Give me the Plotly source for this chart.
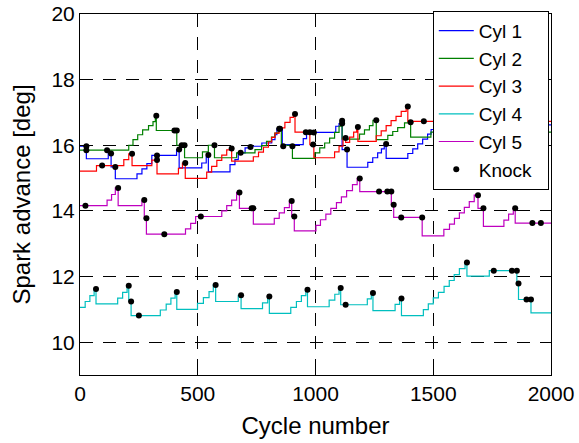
import plotly.graph_objects as go

# ---- data ----
cyl1_x = [0, 27, 120, 132, 150, 242, 263, 284, 305, 410, 421, 517, 536, 545, 637, 658, 672, 701, 724,
          772, 814, 828, 836, 859, 948, 962, 1086, 1100, 1113, 1134, 1222, 1243, 1264, 1280, 1292, 1300,
          1392, 1413, 1434, 1455, 1476, 1491, 1512, 2000]
cyl1_y = [15.97, 15.59, 15.75, 15.34, 14.98, 15.13, 15.28, 15.44, 15.69, 15.87, 15.31, 15.46, 15.64, 15.19,
          15.41, 15.56, 15.77, 15.92, 15.97, 16.07, 16.17, 16.32, 16.5, 16.02, 16.2, 16.39, 16.58, 16.66,
          15.87, 15.33, 15.48, 15.62, 15.77, 15.89, 16.04, 15.6, 15.75, 15.89, 16.04, 16.19, 16.34, 16.48,
          16.62, 16.62]

cyl2_x = [0, 207, 225, 245, 266, 291, 310, 320, 324, 411, 444, 520, 545, 571, 665, 743, 771, 792, 813,
          827, 842, 855, 902, 997, 1018, 1039, 1060, 1081, 1100, 1108, 1113, 1187, 1208, 1229, 1244, 1258,
          1307, 1328, 1349, 1378, 1404, 1490, 2000]
cyl2_y = [15.85, 16.0, 16.17, 16.32, 16.47, 16.6, 16.72, 16.9, 16.45, 16.0, 15.62, 15.8, 16.0, 15.62,
          15.77, 15.87, 15.99, 16.12, 16.25, 16.37, 16.5, 16.0, 15.6, 15.77, 15.92, 16.07, 16.22, 16.39,
          16.58, 16.75, 16.19, 16.34, 16.47, 16.6, 16.76, 16.17, 16.3, 16.42, 16.54, 16.68, 16.25, 16.4,
          16.4]

cyl3_x = [0, 70, 186, 207, 221, 305, 327, 418, 435, 447, 538, 559, 581, 602, 623, 644, 736, 758, 779,
          800, 814, 828, 846, 870, 892, 906, 913, 976, 993, 1081, 1100, 1117, 1128, 1145, 1162, 1175,
          1180, 1258, 1279, 1300, 1321, 1342, 1364, 1385, 1392, 2000]
cyl3_y = [15.21, 15.38, 15.56, 15.74, 15.38, 15.55, 15.13, 15.3, 15.46, 14.99, 15.18, 15.36, 15.54, 15.7,
          15.86, 15.52, 15.65, 15.79, 15.94, 16.1, 16.24, 16.37, 16.53, 16.7, 16.85, 16.95, 16.4, 16.02,
          15.62, 15.8, 15.97, 16.22, 16.09, 16.25, 16.4, 16.56, 16.12, 16.29, 16.44, 16.6, 16.75, 16.88,
          17.03, 17.18, 16.73, 16.73]

cyl4_x = [0, 22, 42, 60, 68, 160, 181, 200, 207, 217, 341, 366, 386, 404, 411, 499, 524, 548, 566, 576,
          672, 684, 775, 797, 804, 895, 919, 940, 959, 966, 1058, 1082, 1100, 1107, 1220, 1237, 1244,
          1338, 1357, 1365, 1458, 1479, 1500, 1522, 1546, 1568, 1589, 1611, 1635, 1643, 1738, 1855,
          1862, 1915, 2000]
cyl4_y = [11.06, 11.24, 11.42, 11.62, 11.17, 11.34, 11.52, 11.72, 11.27, 10.81, 10.98, 11.16, 11.34,
          11.53, 11.0, 11.18, 11.36, 11.54, 11.74, 11.24, 11.43, 11.02, 11.2, 11.39, 10.88, 11.06, 11.24,
          11.42, 11.6, 11.08, 11.28, 11.46, 11.65, 11.14, 11.32, 11.5, 10.96, 11.15, 11.33, 10.81, 10.99,
          11.17, 11.35, 11.52, 11.7, 11.88, 12.06, 12.24, 12.43, 12.01, 12.18, 11.79, 11.3, 10.89, 10.89]

cyl5_x = [0, 115, 134, 150, 162, 263, 273, 282, 448, 470, 491, 602, 623, 644, 665, 677, 736, 825, 846,
          868, 889, 899, 910, 1002, 1021, 1044, 1065, 1089, 1110, 1132, 1157, 1177, 1188, 1322, 1332,
          1453, 1545, 1569, 1590, 1611, 1632, 1653, 1674, 1690, 1713, 1800, 1820, 1840, 1848, 2000]
cyl5_y = [14.16, 14.33, 14.5, 14.7, 14.16, 14.33, 13.78, 13.29, 13.45, 13.62, 13.83, 14.0, 14.16, 14.33,
          14.56, 14.08, 13.6, 13.77, 13.94, 14.1, 14.3, 13.83, 13.39, 13.56, 13.73, 13.9, 14.08, 14.25,
          14.43, 14.62, 14.8, 14.99, 14.59, 14.19, 13.8, 13.24, 13.44, 13.6, 13.77, 13.94, 14.11, 14.28,
          14.48, 14.08, 13.53, 13.72, 13.9, 14.08, 13.63, 13.63]

knock_x = [27, 132, 150, 327, 421, 545, 682, 724, 846, 863, 993, 1113, 1134, 1300,
           27, 115, 324, 401, 411, 432, 444, 571, 849, 902, 1113, 1258, 1404,
           94, 221, 327, 447, 644, 913, 959, 976, 990, 1128, 1180, 1392, 1460,
           68, 207, 217, 250, 411, 576, 684, 804, 966, 1107, 1128, 1244, 1365, 1643, 1757, 1834, 1855,
           1862, 1896, 1915,
           23, 162, 273, 282, 358, 513, 677, 729, 736, 899, 910, 1188, 1270, 1305, 1322, 1332, 1364,
           1453, 1690, 1713, 1848, 1921, 1957]
knock_y = [15.97, 15.75, 15.34, 15.69, 15.87, 15.7, 15.77, 15.95, 16.5, 15.97, 16.39, 16.66, 15.87, 16.04,
           15.85, 15.85, 16.9, 16.45, 16.45, 16.0, 16.0, 16.0, 16.5, 15.97, 16.75, 16.76, 16.7,
           15.38, 15.74, 15.55, 15.46, 15.9, 16.95, 16.4, 16.4, 16.02, 16.22, 16.56, 17.18, 16.73,
           11.62, 11.72, 11.24, 10.81, 11.53, 11.74, 11.43, 11.39, 11.6, 11.65, 11.14, 11.5, 11.33, 12.43,
           12.18, 12.18, 12.18, 11.79, 11.3, 11.3,
           14.16, 14.7, 14.33, 13.78, 13.29, 13.83, 14.56, 14.08, 14.08, 14.3, 13.83, 14.99, 14.59, 14.59,
           14.59, 14.19, 13.8, 13.8, 14.48, 14.08, 14.08, 13.63, 13.63]

series_names = ["Cyl 1", "Cyl 2", "Cyl 3", "Cyl 4", "Cyl 5"]
series_colors = ["#0000ff", "#008000", "#ff0000", "#00bfbf", "#bf00bf"]
knock_name = "Knock"
x_ticks = [0, 500, 1000, 1500, 2000]
y_ticks = [10, 12, 14, 16, 18, 20]

series = [(cyl1_x, cyl1_y), (cyl2_x, cyl2_y), (cyl3_x, cyl3_y), (cyl4_x, cyl4_y), (cyl5_x, cyl5_y)]
for sx, sy in series:
    assert len(sx) == len(sy)
assert len(knock_x) == len(knock_y)

FONT = "Liberation Sans, Arial, sans-serif"

fig = go.Figure()
for (sx, sy), name, col in zip(series, series_names, series_colors):
    fig.add_trace(go.Scatter(x=sx, y=sy, mode="lines", name=name,
                             line=dict(color=col, width=1.2, shape="hv")))
# two trailing no-break spaces only widen the legend box (as in the reference)
fig.add_trace(go.Scatter(x=knock_x, y=knock_y, mode="markers", name=knock_name + "\u00a0\u00a0",
                         marker=dict(color="black", size=6)))

axis_common = dict(showline=True, linecolor="black", linewidth=1, mirror="ticks",
                   ticks="inside", ticklen=5, tickcolor="black", automargin=False,
                   showgrid=True, gridcolor="black", gridwidth=1, griddash="13px,10px",
                   zeroline=False, tickfont=dict(family=FONT, size=21, color="black"))

fig.update_xaxes(range=[0, 2000], tickvals=x_ticks,
                 title=dict(text="Cycle number", font=dict(family=FONT, size=24, color="black"), standoff=12),
                 **axis_common)
fig.update_yaxes(range=[9, 20], tickvals=y_ticks,
                 title=dict(text="Spark advance [deg]", font=dict(family=FONT, size=24, color="black"), standoff=14),
                 **axis_common)

fig.update_layout(
    width=579, height=443,
    margin=dict(l=80, r=28, t=13, b=68),
    paper_bgcolor="white", plot_bgcolor="white",
    font=dict(family=FONT, color="black"),
    showlegend=True,
    legend=dict(x=0.749, y=1.006, xanchor="left", yanchor="top",
                bgcolor="white", bordercolor="black", borderwidth=1,
                font=dict(family=FONT, size=19, color="black"),
                itemwidth=35, tracegroupgap=0),
)

fig.write_html("out.html")
